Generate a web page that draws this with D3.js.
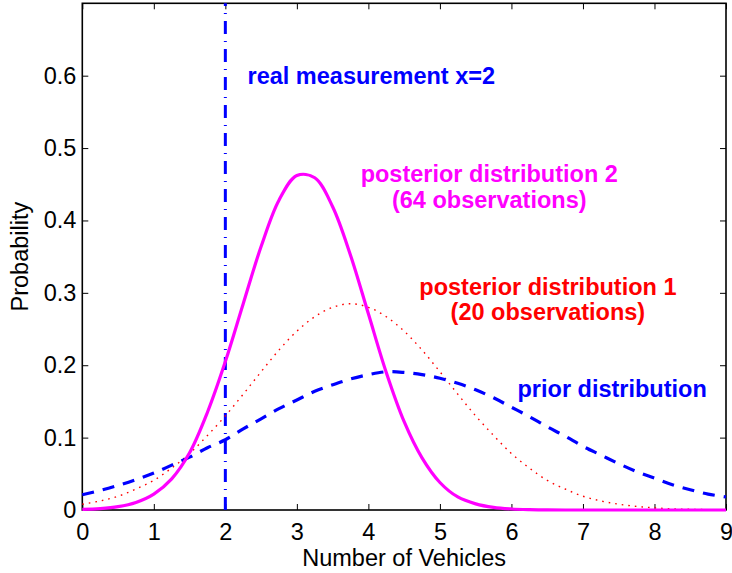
<!DOCTYPE html>
<html lang="en">

<head>
  <meta charset="UTF-8">
  <title>Prior and Posterior Distributions</title>
  <style>
    body {
      margin: 0;
      background: #fff;
    }

    svg text {
      font-family: "Liberation Sans", Arial, Helvetica, sans-serif;
    }
  </style>
  <script src="https://cdn.jsdelivr.net/npm/d3@7"></script>
</head>

<body>
  <div id="wrapper"></div>
  <script>
    // values
    const xValues = [0, 0.25, 0.5, 0.75, 1, 1.25, 1.5, 1.75, 2, 2.25, 2.5, 2.75, 3, 3.25, 3.5, 3.75, 4, 4.25, 4.5,
      4.75, 5, 5.25, 5.5, 5.75, 6, 6.25, 6.5, 6.75, 7, 7.25, 7.5, 7.75, 8, 8.25, 8.5, 8.75, 9];
    const priorValues = [0.021, 0.027, 0.034, 0.042, 0.051, 0.062, 0.073, 0.086, 0.097, 0.112, 0.126, 0.140, 0.152,
      0.164, 0.173, 0.181, 0.187, 0.191, 0.190, 0.187, 0.182, 0.175, 0.166, 0.155, 0.142, 0.129, 0.115, 0.102, 0.088,
      0.076, 0.064, 0.053, 0.044, 0.035, 0.028, 0.022, 0.018];
    const posterior1Values = [0.008, 0.0125, 0.019, 0.029, 0.041, 0.058, 0.078, 0.103, 0.130, 0.160, 0.191, 0.221,
      0.247, 0.267, 0.280, 0.285, 0.280, 0.267, 0.247, 0.221, 0.191, 0.160, 0.130, 0.103, 0.078, 0.058, 0.041, 0.029,
      0.019, 0.0125, 0.008, 0.005, 0.003, 0.0016, 0.0009, 0.0005, 0.0003];
    const posterior2Values = [0.0008, 0.0019, 0.0046, 0.0105, 0.022, 0.043, 0.079, 0.135, 0.205, 0.285, 0.364, 0.428,
      0.462, 0.459, 0.419, 0.352, 0.271, 0.190, 0.122, 0.072, 0.038, 0.018, 0.0085, 0.0036, 0.0014, 0.0005, 0.0002,
      0, 0, 0, 0, 0, 0, 0, 0, 0, 0];
    const measurementX = 2;

    const xTicks = [0, 1, 2, 3, 4, 5, 6, 7, 8, 9];
    const yTicks = [0, 0.1, 0.2, 0.3, 0.4, 0.5, 0.6];
    const xLabel = "Number of Vehicles";
    const yLabel = "Probability";
    const measurementLabel = ["real measurement x=2"];
    const posterior2Label = ["posterior distribution 2", "(64 observations)"];
    const posterior1Label = ["posterior distribution 1", "(20 observations)"];
    const priorLabel = ["prior distribution"];

    function drawChart() {
      //#region Dimensions
      let dimensions = {
        width: 732,
        height: 573,
        margin: {
          top: 3.3,
          right: 6,
          bottom: 63,
          left: 82.3,
        },
      };
      dimensions.boundedWidth = dimensions.width - dimensions.margin.left - dimensions.margin.right;
      dimensions.boundedHeight = dimensions.height - dimensions.margin.top - dimensions.margin.bottom;
      //#endregion

      //#region Canvas
      const wrapper = d3.select("#wrapper")
        .append("svg")
        .attr("width", dimensions.width)
        .attr("height", dimensions.height);

      const bounds = wrapper.append("g")
        .attr("transform", `translate(${dimensions.margin.left},${dimensions.margin.top})`);
      //#endregion

      //#region Scales
      const xScale = d3.scaleLinear()
        .domain([0, 9])
        .range([0, dimensions.boundedWidth]);

      const yScale = d3.scaleLinear()
        .domain([0, 0.7])
        .range([dimensions.boundedHeight, 0]);
      //#endregion

      //#region Axes (MATLAB style box, ticks pointing in)
      const fontSize = 23.5;

      const xAxis = bounds.append("g")
        .attr("transform", `translate(0,${dimensions.boundedHeight})`)
        .call(d3.axisBottom(xScale).tickValues(xTicks).tickSizeInner(-6).tickSizeOuter(0).tickPadding(8)
          .tickFormat(d3.format("d")));

      const yAxis = bounds.append("g")
        .call(d3.axisLeft(yScale).tickValues(yTicks).tickSizeInner(-6).tickSizeOuter(0).tickPadding(6)
          .tickFormat(d => d === 0 ? "0" : d3.format(".1f")(d)));

      const topAxis = bounds.append("g")
        .call(d3.axisTop(xScale).tickValues(xTicks).tickSizeInner(-6).tickSizeOuter(0).tickFormat(""));

      const rightAxis = bounds.append("g")
        .attr("transform", `translate(${dimensions.boundedWidth},0)`)
        .call(d3.axisRight(yScale).tickValues(yTicks).tickSizeInner(-6).tickSizeOuter(0).tickFormat(""));

      [xAxis, yAxis, topAxis, rightAxis].forEach(axis => {
        axis.select(".domain").remove();
        axis.selectAll(".tick line").attr("stroke", "#000").attr("stroke-width", 1);
        axis.selectAll(".tick text")
          .attr("fill", "#000")
          .style("font-size", `${fontSize}px`);
      });
      xAxis.selectAll(".tick text").attr("dy", "0.95em");

      bounds.append("rect")
        .attr("width", dimensions.boundedWidth)
        .attr("height", dimensions.boundedHeight)
        .attr("fill", "none")
        .attr("stroke", "#000")
        .attr("stroke-width", 1.6);

      bounds.append("text")
        .attr("x", dimensions.boundedWidth / 2)
        .attr("y", dimensions.boundedHeight + 56.5)
        .attr("text-anchor", "middle")
        .style("font-size", `${fontSize}px`)
        .text(xLabel);

      bounds.append("text")
        .attr("transform", `translate(${28 - dimensions.margin.left},${dimensions.boundedHeight / 2}) rotate(-90)`)
        .attr("text-anchor", "middle")
        .style("font-size", `${fontSize}px`)
        .text(yLabel);
      //#endregion

      //#region Lines
      const makeLine = values => d3.line()
        .x((d, i) => xScale(xValues[i]))
        .y(d => yScale(d))
        .curve(d3.curveCatmullRom.alpha(0.5))(values);

      bounds.append("line")
        .attr("x1", xScale(measurementX))
        .attr("x2", xScale(measurementX))
        .attr("y1", yScale(0))
        .attr("y2", yScale(0.7))
        .attr("stroke", "#0000ff")
        .attr("stroke-width", 3)
        .attr("stroke-dasharray", "13,7,1,7");

      bounds.append("path")
        .attr("d", makeLine(posterior1Values))
        .attr("fill", "none")
        .attr("stroke", "#ff0000")
        .attr("stroke-width", 1.4)
        .attr("stroke-dasharray", "1.6,5");

      bounds.append("path")
        .attr("d", makeLine(priorValues))
        .attr("fill", "none")
        .attr("stroke", "#0000ff")
        .attr("stroke-width", 3.2)
        .attr("stroke-dasharray", "12,9");

      bounds.append("path")
        .attr("d", makeLine(posterior2Values))
        .attr("fill", "none")
        .attr("stroke", "#ff00ff")
        .attr("stroke-width", 3.2)
        .attr("stroke-linejoin", "round");
      //#endregion

      //#region Annotations
      const annotate = (lines, color, x, y, anchor) => {
        const label = bounds.append("text")
          .attr("fill", color)
          .attr("text-anchor", anchor)
          .style("font-size", `${fontSize}px`)
          .style("font-weight", "bold");
        lines.forEach((line, i) => {
          label.append("tspan")
            .attr("x", xScale(x))
            .attr("y", yScale(y) + i * 25.5)
            .text(line);
        });
      };

      annotate(measurementLabel, "#0000ff", 2.31, 0.589, "start");
      annotate(posterior2Label, "#ff00ff", 5.69, 0.4525, "middle");
      annotate(posterior1Label, "#ff0000", 6.51, 0.2977, "middle");
      annotate(priorLabel, "#0000ff", 6.085, 0.1565, "start");
      //#endregion
    }

    drawChart();
  </script>
</body>

</html>
